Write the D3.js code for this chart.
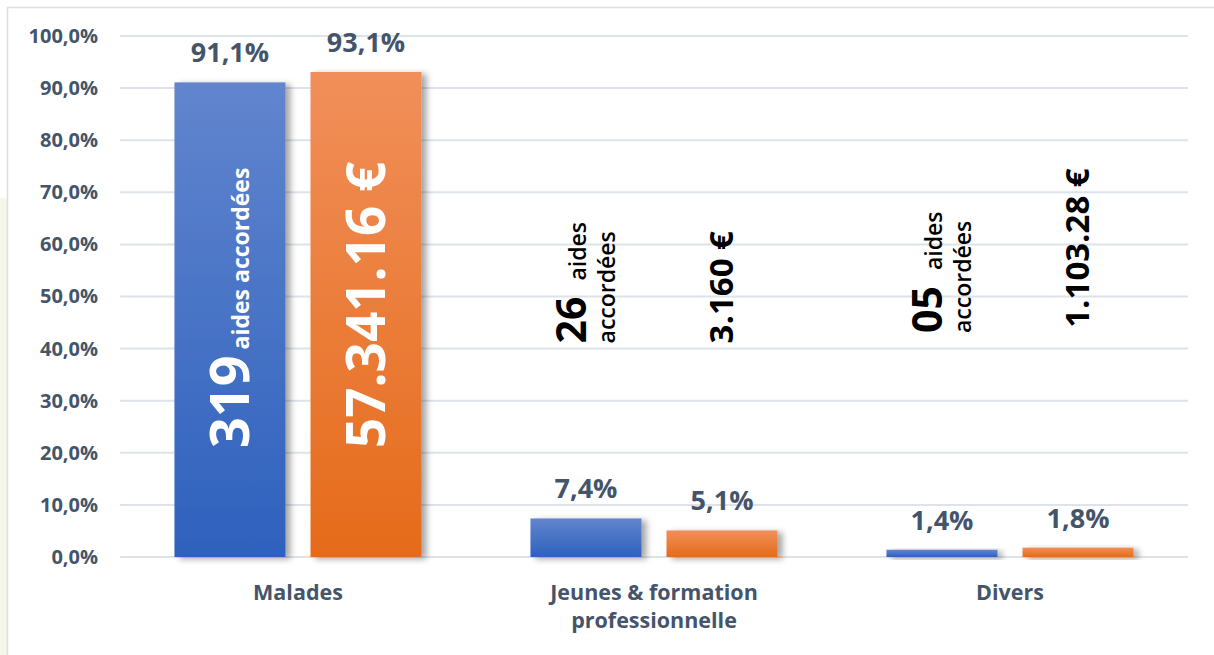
<!DOCTYPE html>
<html>
<head>
<meta charset="utf-8">
<script src="https://cdn.jsdelivr.net/npm/d3@7"></script>
<style>
  body { margin: 0; background: #fff; }
  svg { display: block; font-family: "Open Sans", sans-serif; }
</style>
</head>
<body>
<div id="chart"></div>
<script>
// Categories and the two series (share of aids / share of amounts)
const categories = ["Malades", "Jeunes & formation professionnelle", "Divers"];
const categoryLines = [["Malades"], ["Jeunes & formation", "professionnelle"], ["Divers"]];
const series = ["aides", "montants"];
const aidesShare = [91.1, 7.4, 1.4];
const montantsShare = [93.1, 5.1, 1.8];
const yTicks = [0, 10, 20, 30, 40, 50, 60, 70, 80, 90, 100];

// rotated annotations inside / above the bars
const aidesCount = ["319", "26", "05"];
const montantsText = ["57.341.16 €", "3.160 €", "1.103.28 €"];
// where each rotated label starts, in axis units (%)
const aidesLabelStart = [20.9, 41, 43];
const montantsLabelStart = [20.9, 41, 44];

const width = 1214, height = 655;
const margin = { top: 36, right: 26, bottom: 98, left: 120 };
const textColor = "#44546A";

const svg = d3.select("#chart").append("svg")
    .attr("width", width)
    .attr("height", height);

// background frame
svg.append("rect").attr("x", 0).attr("y", 198).attr("width", 7).attr("height", height - 198).attr("fill", "#F4F6E7");
svg.append("path").attr("d", `M7.5,${height} V7.5 H${width}`).attr("fill", "none").attr("stroke", "#DCDEE2").attr("stroke-width", 1.5);

const defs = svg.append("defs");
const grads = [
    { id: "gBlue", top: "#6285CE", bottom: "#2E61BD" },
    { id: "gOrange", top: "#F18F5A", bottom: "#E56B1A" }
];
grads.forEach(g => {
    const lg = defs.append("linearGradient").attr("id", g.id).attr("x1", 0).attr("y1", 0).attr("x2", 0).attr("y2", 1);
    lg.append("stop").attr("offset", "0%").attr("stop-color", g.top);
    lg.append("stop").attr("offset", "100%").attr("stop-color", g.bottom);
});
defs.append("filter").attr("id", "shadow").attr("x", "-20%").attr("y", "-20%").attr("width", "150%").attr("height", "150%")
    .append("feDropShadow").attr("dx", 5).attr("dy", 2).attr("stdDeviation", 3)
    .attr("flood-color", "#000").attr("flood-opacity", 0.35);

const x0 = d3.scaleBand()
    .domain(categories)
    .range([margin.left, width - margin.right])
    .paddingInner(0.306)
    .paddingOuter(0.153);

const x1 = d3.scaleBand()
    .domain(series)
    .range([0, x0.bandwidth()])
    .paddingInner(0.184);

const y = d3.scaleLinear()
    .domain([0, 100])
    .range([height - margin.bottom, margin.top]);

// gridlines
svg.append("g")
    .selectAll("line")
    .data(yTicks)
    .join("line")
    .attr("x1", margin.left)
    .attr("x2", width - margin.right)
    .attr("y1", d => y(d))
    .attr("y2", d => y(d))
    .attr("stroke", "#DEE3EA")
    .attr("stroke-width", 2);

// y axis labels
const yAxis = svg.append("g")
    .attr("transform", `translate(${margin.left - 22},0)`)
    .call(d3.axisLeft(y).tickValues(yTicks).tickSize(0).tickFormat(d => d.toFixed(1).replace(".", ",") + "%"));
yAxis.select(".domain").remove();
yAxis.selectAll("text")
    .attr("x", 0)
    .attr("fill", textColor)
    .style("font-size", "20px")
    .style("font-weight", 700)
    .style("font-family", "'Open Sans', sans-serif");

const rows = categories.map((c, i) => ({
    cat: c,
    values: [
        { key: "aides", v: aidesShare[i] },
        { key: "montants", v: montantsShare[i] }
    ]
}));

const groups = svg.append("g")
    .selectAll("g")
    .data(rows)
    .join("g")
    .attr("transform", d => `translate(${x0(d.cat)},0)`);

groups.selectAll("rect")
    .data(d => d.values)
    .join("rect")
    .attr("x", d => x1(d.key))
    .attr("y", d => y(d.v))
    .attr("width", x1.bandwidth())
    .attr("height", d => y(0) - y(d.v))
    .attr("fill", d => d.key === "aides" ? "url(#gBlue)" : "url(#gOrange)")
    .attr("filter", "url(#shadow)");

// percentage labels above bars
groups.selectAll("text.val")
    .data(d => d.values)
    .join("text")
    .attr("class", "val")
    .attr("x", d => x1(d.key) + x1.bandwidth() / 2)
    .attr("y", d => y(d.v) - 20)
    .attr("text-anchor", "middle")
    .attr("fill", textColor)
    .style("font-size", "27px")
    .style("font-weight", 700)
    .text(d => d.v.toFixed(1).replace(".", ",") + "%");

// category labels
categories.forEach((c, i) => {
    const t = svg.append("text")
        .attr("x", x0(c) + x0.bandwidth() / 2)
        .attr("y", y(0) + 43)
        .attr("text-anchor", "middle")
        .attr("fill", textColor)
        .style("font-size", "21.5px")
        .style("font-weight", 700);
    categoryLines[i].forEach((line, j) => {
        t.append("tspan")
            .attr("x", x0(c) + x0.bandwidth() / 2)
            .attr("dy", j === 0 ? 0 : 28)
            .text(line);
    });
});

// rotated annotations
categories.forEach((c, i) => {
    const cxA = x0(c) + x1("aides") + x1.bandwidth() / 2;
    const cxM = x0(c) + x1("montants") + x1.bandwidth() / 2;
    if (i === 0) {
        // white text inside the big bars
        const t = svg.append("text")
            .attr("transform", `translate(${cxA + 19},${y(aidesLabelStart[i])}) rotate(-90)`)
            .attr("fill", "#fff")
            .style("font-weight", 700);
        t.append("tspan").style("font-size", "54px").text(aidesCount[i]);
        t.append("tspan").style("font-size", "23px").attr("dx", 6).text("aides accordées");

        svg.append("text")
            .attr("transform", `translate(${cxM + 19},${y(montantsLabelStart[i])}) rotate(-90)`)
            .attr("fill", "#fff")
            .style("font-size", "53px")
            .style("font-weight", 700)
            .text(montantsText[i]);
    } else {
        const t = svg.append("text")
            .attr("transform", `translate(${cxA},${y(aidesLabelStart[i])}) rotate(-90)`)
            .attr("fill", "#000");
        t.append("tspan").style("font-size", "41px").style("font-weight", 700).text(aidesCount[i]);
        t.append("tspan").style("font-size", "23px").style("font-weight", 600).attr("dx", 16).text("aides");
        t.append("tspan").attr("x", 0).attr("dy", 29).style("font-size", "23px").style("font-weight", 600).text("accordées");

        svg.append("text")
            .attr("transform", `translate(${cxM + 11},${y(montantsLabelStart[i])}) rotate(-90)`)
            .attr("fill", "#000")
            .style("font-size", "33px")
            .style("font-weight", 700)
            .text(montantsText[i]);
    }
});
</script>
</body>
</html>
